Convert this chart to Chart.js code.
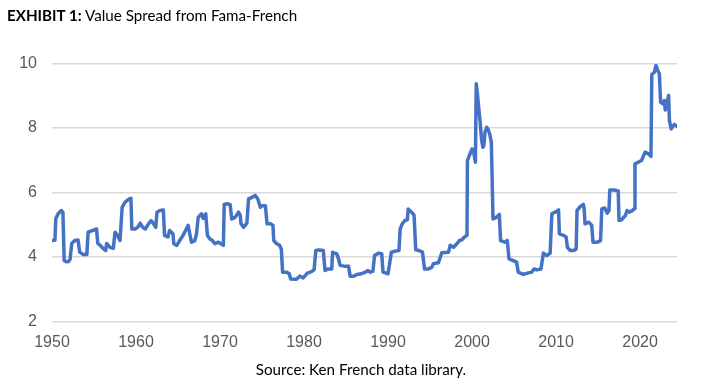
<!DOCTYPE html>
<html>
<head>
<meta charset="utf-8">
<script src="https://cdn.jsdelivr.net/npm/chart.js@4"></script>
<style>
  html, body { margin: 0; padding: 0; background: #ffffff; }
  body { width: 708px; height: 380px; position: relative; overflow: hidden; }
  #wrap { position: absolute; left: 0; top: 0; width: 708px; height: 380px; }
  #title { position: absolute; left: 7px; top: 6px; font-family: Lato, "Open Sans", sans-serif; font-size: 15.2px; color: #000; white-space: nowrap; }
  #title b { font-weight: 700; }
  #source { position: absolute; left: 0; width: 722px; top: 360px; text-align: center; font-family: Lato, "Open Sans", sans-serif; font-size: 15.2px; color: #000; white-space: nowrap; }
</style>
</head>
<body>
<div id="wrap"><canvas id="c" width="708" height="380"></canvas></div>
<div id="title"><b>EXHIBIT 1:</b> Value Spread from Fama-French</div>
<div id="source">Source: Ken French data library.</div>
<script>
const years = [
1950.0,1950.35,1950.45,1950.75,1951.1,1951.3,1951.45,1951.7,1952.0,1952.15,1952.35,1952.7,1953.1,1953.3,1953.7,1954.15,1954.3,1954.8,1955.3,1955.45,1955.7,1956.1,1956.4,1956.5,1956.9,1957.3,1957.5,1957.8,1958.1,1958.35,1958.7,1959.2,1959.4,1959.5,1959.9,1960.2,1960.5,1960.8,1961.1,1961.5,1961.8,1962.1,1962.35,1962.5,1962.85,1963.25,1963.4,1963.8,
1964.0,1964.4,1964.5,1964.85,1965.2,1965.6,1965.9,1966.2,1966.4,1966.6,1967.0,1967.2,1967.4,1967.8,1968.0,1968.3,1968.5,1968.8,1969.1,1969.4,1969.8,1970.1,1970.4,1970.5,1970.8,1971.2,1971.4,1971.8,1972.2,1972.4,1972.5,1972.8,1973.2,1973.4,1973.8,1974.2,1974.5,1974.8,1975.0,1975.4,1975.6,1976.0,1976.3,1976.4,1976.75,1977.1,1977.3,1977.45,1977.9,1978.25,1978.4,1979.1,1979.5,1979.9,1980.4,1980.9,1981.2,1981.4,1981.8,1982.3,1982.5,1982.9,1983.3,1983.4,1983.6,1983.9,1984.1,1984.3,1984.9,1985.3,1985.5,1985.9,1986.3,1986.8,1987.3,1987.6,1987.9,1988.2,1988.4,1988.85,1989.25,1989.4,1990.0,1990.4,1990.8,1991.3,1991.45,1991.7,1992.0,1992.3,1992.4,1992.8,1993.1,1993.3,1993.7,1994.1,1994.35,1994.8,1995.2,1995.4,1996.0,1996.4,1997.2,1997.4,1997.8,1998.2,1998.5,1998.8,1999.05,1999.4,1999.45,1999.76,2000.0,2000.2,2000.4,2000.5,2000.6,2000.75,2000.95,2001.15,2001.3,2001.4,2001.55,2001.75,2001.9,2002.1,2002.3,2002.5,2002.9,2003.25,2003.4,2003.9,2004.2,2004.4,2004.9,2005.3,2005.5,2006.1,2006.6,2007.1,2007.4,2007.7,2008.2,2008.5,2008.9,2009.3,2009.5,2009.9,2010.3,2010.4,2010.9,2011.2,2011.35,2011.7,2012.1,2012.4,2012.5,2012.9,2013.25,2013.35,2013.45,2013.9,2014.25,2014.4,2014.9,2015.3,2015.45,2015.8,2016.1,2016.3,2016.4,2016.9,2017.4,2017.5,2017.8,2018.05,2018.25,2018.45,2018.7,2019.1,2019.3,2019.4,2019.8,2020.2,2020.6,2021.0,2021.3,2021.4,2021.7,2021.9,2022.1,2022.3,2022.45,2022.7,2022.9,2023.0,2023.2,2023.4,2023.5,2023.7,2023.9,2024.1,2024.4
];
const valueSpread = [
4.51,4.52,5.19,5.35,5.44,5.39,3.89,3.85,3.86,3.93,4.42,4.51,4.53,4.15,4.08,4.08,4.77,4.82,4.87,4.42,4.37,4.26,4.2,4.42,4.3,4.27,4.77,4.67,4.51,5.54,5.70,5.8,5.82,4.87,4.87,4.92,5.05,4.92,4.87,5.03,5.13,5.03,4.92,5.39,5.44,5.46,4.67,4.62,
4.82,4.72,4.41,4.36,4.51,4.67,4.82,4.98,4.72,4.46,4.51,4.71,5.23,5.34,5.2,5.34,4.67,4.56,4.51,4.41,4.46,4.41,4.36,5.63,5.65,5.63,5.18,5.23,5.39,5.3,5.03,4.92,5.05,5.80,5.85,5.91,5.8,5.54,5.59,5.59,5.03,5.03,4.98,4.51,4.41,4.36,4.25,3.53,3.53,3.48,3.32,3.31,3.41,3.35,3.5,3.55,3.6,4.2,4.22,4.2,3.58,3.63,3.63,4.15,4.12,4.1,3.95,3.74,3.71,3.71,3.4,3.4,3.46,3.48,3.53,3.58,3.53,3.56,4.05,4.12,4.1,3.53,3.48,4.15,4.18,4.2,4.87,5.03,5.13,5.15,5.49,5.39,5.3,4.22,4.2,4.15,3.63,3.63,3.68,3.79,3.82,4.13,4.15,4.36,4.3,4.41,4.51,4.53,4.61,4.67,6.99,7.2,7.35,7.25,6.94,9.37,9.16,8.75,8.23,7.61,7.4,7.45,7.87,8.02,7.97,7.82,7.56,5.18,5.23,5.32,4.51,4.46,4.51,3.94,3.89,3.84,3.53,3.46,3.5,3.53,3.63,3.6,3.63,4.12,4.04,4.12,5.34,5.39,5.46,4.72,4.67,4.62,4.3,4.2,4.2,4.25,5.44,5.57,5.63,5.5,5.03,5.08,4.98,4.46,4.46,4.51,5.49,5.52,5.36,5.44,6.08,6.08,6.05,5.13,5.15,5.23,5.28,5.44,5.39,5.44,5.5,6.89,6.94,7.0,7.25,7.2,7.12,9.66,9.73,9.94,9.79,9.68,8.8,8.75,8.85,8.56,8.75,9.01,8.23,7.97,8.05,8.11,8.05
];
const xTickYears = [1950,1960,1970,1980,1990,2000,2010,2020];
const yTickValues = [2,4,6,8,10];

const points = years.map((yr, i) => ({ x: yr, y: valueSpread[i] }));

new Chart(document.getElementById('c'), {
  type: 'line',
  data: {
    datasets: [{
      label: 'Value Spread',
      data: points,
      borderColor: '#4472C4',
      borderWidth: 3.5,
      pointRadius: 0,
      tension: 0,
      fill: false,
      borderJoinStyle: 'round',
      borderCapStyle: 'round'
    }]
  },
  options: {
    responsive: false,
    animation: false,
    devicePixelRatio: 1,
    layout: { padding: { left: 0, right: 31, top: 63.5, bottom: 28.5 } },
    plugins: { legend: { display: false }, tooltip: { enabled: false }, title: { display: false } },
    scales: {
      x: {
        type: 'linear',
        min: 1950,
        max: 2024.4,
        grid: { display: false, drawTicks: false },
        border: { display: false },
        afterBuildTicks: (s) => { s.ticks = xTickYears.map(v => ({ value: v })); },
        afterFit: (s) => { s.height = 30; },
        ticks: {
          padding: 11,
          color: '#595959',
          font: { family: '"Liberation Sans", Arial, sans-serif', size: 16 },
          maxRotation: 0,
          autoSkip: false,
          callback: (v) => String(v)
        }
      },
      y: {
        min: 2,
        max: 10,
        grid: { color: '#d9d9d9', lineWidth: 1.5, drawTicks: false },
        border: { display: false },
        afterBuildTicks: (s) => { s.ticks = yTickValues.map(v => ({ value: v })); },
        afterFit: (s) => { s.width = 52; },
        ticks: {
          padding: 15,
          color: '#595959',
          font: { family: '"Liberation Sans", Arial, sans-serif', size: 16 },
          callback: (v) => String(v)
        }
      }
    }
  }
});
</script>
</body>
</html>
